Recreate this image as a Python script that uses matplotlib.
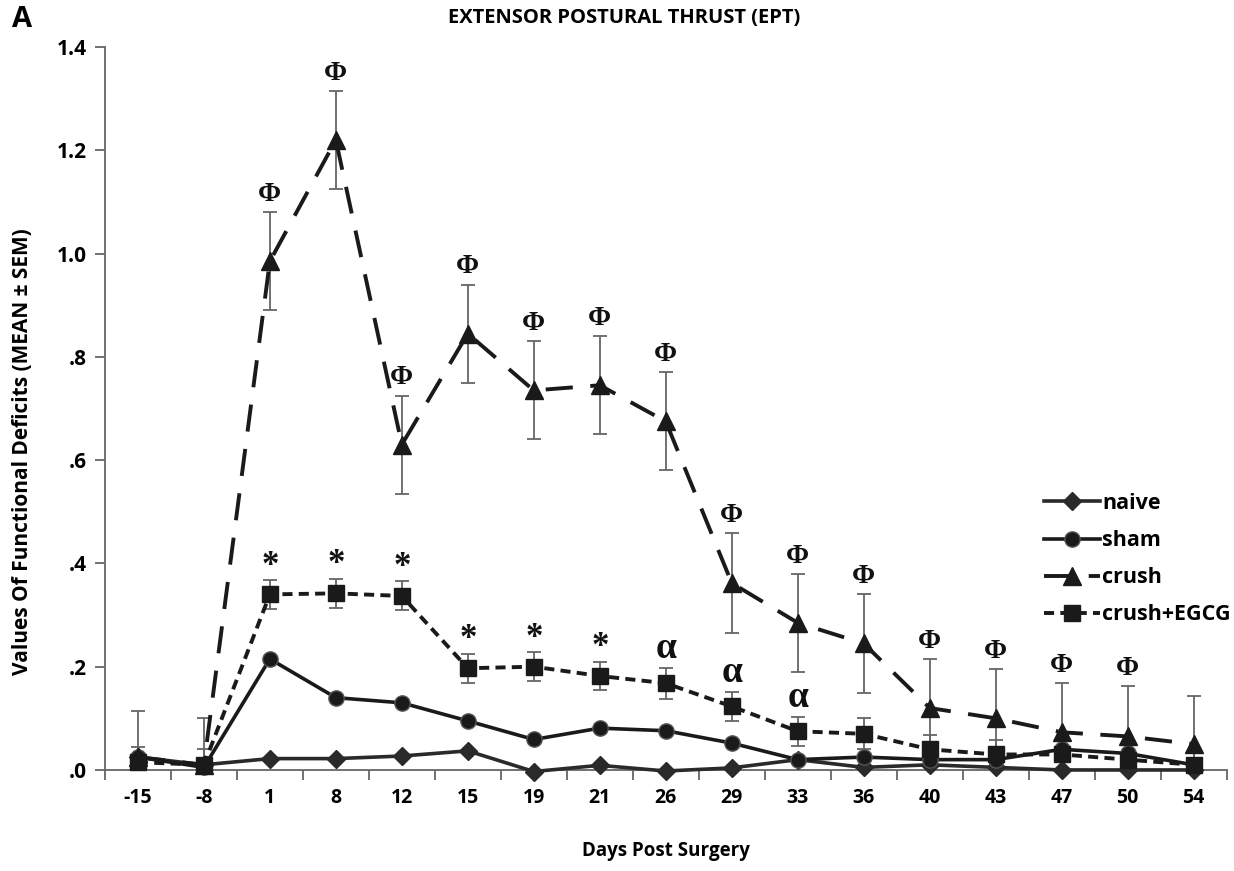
import matplotlib.pyplot as plt
import numpy as np

FONT = "Open Sans"
SERIF = "Liberation Serif"

plt.rcParams.update({
    "font.family": FONT,
    "font.weight": "bold",
})

days = ["-15", "-8", "1", "8", "12", "15", "19", "21", "26", "29", "33", "36",
        "40", "43", "47", "50", "54"]

naive = [0.025, 0.010, 0.022, 0.022, 0.027, 0.037, -0.003, 0.009, -0.002, 0.004,
         0.020, 0.005, 0.010, 0.005, 0.000, 0.000, 0.000]
sham = [0.025, 0.005, 0.215, 0.140, 0.130, 0.095, 0.059, 0.081, 0.076, 0.052,
        0.020, 0.025, 0.020, 0.020, 0.040, 0.032, 0.010]
crush = [0.025, 0.010, 0.985, 1.220, 0.630, 0.845, 0.735, 0.745, 0.675, 0.362,
         0.285, 0.245, 0.120, 0.100, 0.073, 0.065, 0.050]
crush_err = [0.090, 0.090, 0.095, 0.095, 0.095, 0.095, 0.095, 0.095, 0.095, 0.097,
             0.095, 0.095, 0.095, 0.095, 0.095, 0.097, 0.093]
egcg = [0.015, 0.010, 0.340, 0.342, 0.337, 0.197, 0.200, 0.182, 0.168, 0.123,
        0.075, 0.070, 0.040, 0.030, 0.030, 0.020, 0.010]
egcg_err = [0.030, 0.030, 0.028, 0.028, 0.028, 0.028, 0.028, 0.028, 0.030, 0.028,
            0.028, 0.030, 0.028, 0.028, 0.028, 0.028, 0.028]

phi_days = ["1", "8", "12", "15", "19", "21", "26", "29", "33", "36", "40", "43", "47", "50"]
star_days = ["1", "8", "12", "15", "19", "21"]
alpha_days = ["26", "29", "33"]

x = np.arange(len(days))
LINE = "#1a1a1a"
ERR = "#666666"

fig = plt.figure(figsize=(12.34, 8.71), dpi=100)
ax = fig.add_axes([0.085, 0.116, 0.909, 0.830])

ax.errorbar(x, crush, yerr=crush_err, fmt="none", ecolor=ERR, elinewidth=1.3,
            capsize=5, capthick=1.3, zorder=2)
ax.errorbar(x, egcg, yerr=egcg_err, fmt="none", ecolor=ERR, elinewidth=1.3,
            capsize=5, capthick=1.3, zorder=2)

ax.plot(x, naive, color="#2a2a2a", lw=2.6, marker="D", ms=9, label="naive",
        zorder=3, clip_on=False)
ax.plot(x, sham, color=LINE, lw=2.6, marker="o", ms=11, mec="#555555", mew=1,
        label="sham", zorder=4, clip_on=False)
ax.plot(x, crush, color=LINE, lw=2.8, marker="^", ms=13, dashes=(7, 4.5),
        label="crush", zorder=5, clip_on=False)
ax.plot(x, egcg, color=LINE, lw=2.8, marker="s", ms=12, dashes=(2.6, 1.6),
        label="crush+EGCG", zorder=6, clip_on=False)

# marques de significance
for d in phi_days:
    i = days.index(d)
    ax.text(i, crush[i] + crush_err[i] + 0.010, "Φ", family=SERIF, fontsize=20,
            fontweight="bold", ha="center", va="bottom", color="#111111")
for d in star_days:
    i = days.index(d)
    ax.text(i, egcg[i] + egcg_err[i] - 0.005, "*", family=SERIF, fontsize=25,
            fontweight="bold", ha="center", va="bottom", color="#111111")
for d in alpha_days:
    i = days.index(d)
    ax.text(i, egcg[i] + egcg_err[i] + 0.003, "α", family=SERIF, fontsize=27,
            fontweight="bold", ha="center", va="bottom", color="#111111")

ax.set_xlim(-0.5, len(days) - 0.5)
ax.set_ylim(0, 1.4)
ax.set_yticks(np.arange(0, 1.41, 0.2))
ax.set_yticklabels([".0", ".2", ".4", ".6", ".8", "1.0", "1.2", "1.4"])
ax.set_xticks(np.arange(-0.5, len(days), 1.0))
ax.set_xticklabels([])
ax.set_xticks(x, minor=True)
ax.set_xticklabels(days, minor=True)
ax.tick_params(axis="x", which="major", length=7, width=1.3, color="#666666", direction="out")
ax.tick_params(axis="x", which="minor", length=0, pad=13, labelsize=14)
ax.tick_params(axis="y", length=7, width=1.3, color="#666666", labelsize=15, pad=6)

for s in ["top", "right"]:
    ax.spines[s].set_visible(False)
for s in ["left", "bottom"]:
    ax.spines[s].set_color("#666666")
    ax.spines[s].set_linewidth(1.3)

ax.set_xlabel("Days Post Surgery", fontsize=13.5, fontweight="bold", labelpad=24)
ax.set_ylabel("Values Of Functional Deficits (MEAN ± SEM)", fontsize=15,
              fontweight="bold")
ax.yaxis.set_label_coords(-0.064, 0.44)

fig.text(0.506, 0.979, "EXTENSOR POSTURAL THRUST (EPT)", fontsize=14.5,
         fontweight="bold", ha="center", va="center")
fig.text(0.010, 0.978, "A", fontsize=21, fontweight="bold", ha="left", va="center")

leg = ax.legend(loc="upper left", bbox_to_anchor=(0.82, 0.41), frameon=False,
                fontsize=15.5, handlelength=2.6, handletextpad=0.1, labelspacing=0.75)

fig.savefig("out.png", dpi=100, facecolor="white")
